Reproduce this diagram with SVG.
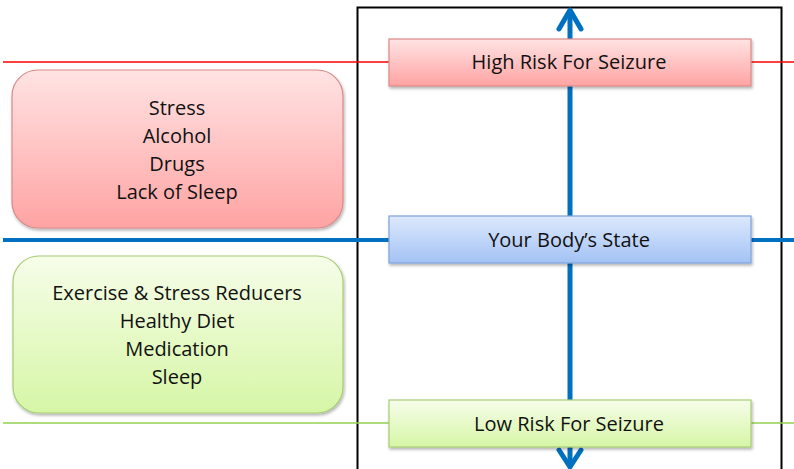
<svg xmlns="http://www.w3.org/2000/svg" width="794" height="469" viewBox="0 0 794 469">
<defs>
<linearGradient id="gRed" x1="0" y1="0" x2="0" y2="1"><stop offset="0" stop-color="#ffe3e3"/><stop offset="1" stop-color="#ffa3a3"/></linearGradient>
<linearGradient id="gBlue" x1="0" y1="0" x2="0" y2="1"><stop offset="0" stop-color="#dde9fd"/><stop offset="1" stop-color="#a3c2f5"/></linearGradient>
<linearGradient id="gGreen" x1="0" y1="0" x2="0" y2="1"><stop offset="0" stop-color="#f6fde9"/><stop offset="1" stop-color="#d6f6a6"/></linearGradient>
<filter id="sh" x="-5%" y="-10%" width="110%" height="130%"><feDropShadow dx="1" dy="2" stdDeviation="1.5" flood-color="#000" flood-opacity="0.3"/></filter>
</defs>
<style>
text{font-family:"Open Sans","Liberation Sans",sans-serif;font-size:20px;fill:#111;text-anchor:middle}
.red{fill:url(#gRed);stroke:#d98a88;stroke-width:1.2}
.blue{fill:url(#gBlue);stroke:#7fa3da;stroke-width:1.2}
.green{fill:url(#gGreen);stroke:#a8cc74;stroke-width:1.2}
.arrow{fill:none;stroke:#0070c0;stroke-width:5;stroke-linecap:round;stroke-linejoin:round}
</style>
<rect x="357.5" y="7.5" width="424" height="470" fill="none" stroke="#000" stroke-width="2"/>
<g id="connectors">
<line x1="3" y1="62" x2="794" y2="62" stroke="#ff0000" stroke-width="1.5"/>
<line x1="3" y1="240" x2="794" y2="240" stroke="#0070c0" stroke-width="4"/>
<line x1="3" y1="423" x2="794" y2="423" stroke="#92d050" stroke-width="1.5"/>
<line x1="570" y1="12" x2="570" y2="466" class="arrow"/>
<polyline points="559,29 570,10 581,29" class="arrow"/>
<polyline points="559,450 570,467 581,450" class="arrow"/>
</g>
<g id="triggers">
<rect x="12" y="70" width="331" height="158" rx="26" class="red" filter="url(#sh)"/>
<text x="177" y="115">Stress</text>
<text x="177" y="143">Alcohol</text>
<text x="177" y="171">Drugs</text>
<text x="177" y="199">Lack of Sleep</text>
</g>
<g id="protectors">
<rect x="13" y="256" width="330" height="157" rx="26" class="green" filter="url(#sh)"/>
<text x="177" y="300">Exercise &amp; Stress Reducers</text>
<text x="177" y="328">Healthy Diet</text>
<text x="177" y="356">Medication</text>
<text x="177" y="384">Sleep</text>
</g>
<g id="high-risk">
<rect x="389" y="39" width="362" height="47" class="red" filter="url(#sh)"/>
<text x="569" y="69">High Risk For Seizure</text>
</g>
<g id="body-state">
<rect x="389" y="216" width="362" height="47" class="blue" filter="url(#sh)"/>
<text x="569" y="247">Your Body’s State</text>
</g>
<g id="low-risk">
<rect x="389" y="400" width="362" height="47" class="green" filter="url(#sh)"/>
<text x="569" y="431">Low Risk For Seizure</text>
</g>
</svg>
